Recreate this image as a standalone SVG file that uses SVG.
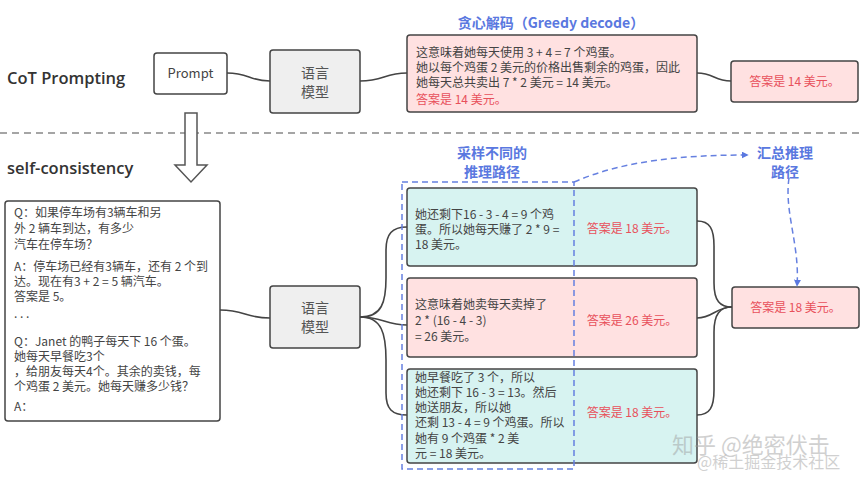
<svg xmlns="http://www.w3.org/2000/svg" width="864" height="477" viewBox="0 0 864 477">
<style>
.box{stroke:#444;stroke-width:1.5}
.pink{fill:#ffe1e1}
.teal{fill:#d7f3f1}
.gray{fill:#efefef}
.white{fill:#fff}
.t{font-family:"Noto Sans CJK SC","Noto Sans",sans-serif;font-size:12px;fill:#444}
.red{fill:#e8505b}
.lm{font-family:"Noto Sans CJK SC","Noto Sans",sans-serif;font-size:14px;fill:#555;text-anchor:middle}
.head{font-family:"Open Sans","Noto Sans CJK SC",sans-serif;font-size:16.5px;font-weight:600;fill:#333}
.blue{font-family:"Noto Sans CJK SC","Open Sans",sans-serif;font-size:14px;font-weight:600;fill:#5a78e0;text-anchor:middle}
.con{fill:none;stroke:#444;stroke-width:1.6}
.bd{fill:none;stroke:#6680e0;stroke-width:1.5;stroke-dasharray:6 4}
</style>
<defs>
<marker id="ba" viewBox="0 0 10 10" refX="9" refY="5" markerWidth="7" markerHeight="7" orient="auto" markerUnits="userSpaceOnUse">
<path d="M0,0 L10,5 L0,10 z" fill="#5a78e0"/>
</marker>
</defs>
<rect width="864" height="477" fill="#fff"/>

<text class="head" x="7" y="84">CoT Prompting</text>
<text class="head" x="7" y="174">self-consistency</text>
<line x1="0" y1="133" x2="864" y2="133" stroke="#888" stroke-width="1.5" stroke-dasharray="7 5"/>
<path d="M185,113 L197,113 L197,165 L207,165 L191,182 L175,165 L185,165 Z" fill="#fff" stroke="#555" stroke-width="1.5"/>

<g id="connectors">
<path class="con" d="M227,73 C249,73 249,81 270,81"/>
<path class="con" d="M360,81 C384,81 384,73 407,73"/>
<path class="con" d="M697,73 C714,73 714,81 731,81"/>
<path class="con" d="M220,310 C245,310 245,318 270,318"/>
<path class="con" d="M360,317 C382,317 386,302 386,278 L386,250 C386,234 392,227 407,227"/>
<path class="con" d="M360,317 C382,317 386,325 407,325"/>
<path class="con" d="M360,317 C382,317 386,334 386,360 L386,393 C386,409 392,415 407,415"/>
<path class="con" d="M697,221 C710,221 714,229 714,246 L714,283 C714,301 720,307 732,307"/>
<path class="con" d="M697,318 C713,318 716,307 732,307"/>
<path class="con" d="M697,415 C710,415 714,407 714,390 L714,332 C714,314 720,307 732,307"/>
</g>

<text class="blue" x="551" y="28">贪心解码（Greedy decode）</text>
<text class="blue" x="492" y="158">采样不同的</text>
<text class="blue" x="492" y="177">推理路径</text>
<text class="blue" x="785" y="158">汇总推理</text>
<text class="blue" x="785" y="177">路径</text>

<g id="prompt">
<rect class="box white" x="154" y="53" width="73" height="41" rx="3"/>
<text class="t" x="190.5" y="78" text-anchor="middle" style="font-size:13px">Prompt</text>
</g>
<g id="lm1">
<rect class="box gray" x="270" y="50" width="90" height="63" rx="3"/>
<text class="lm" x="315" y="78">语言</text>
<text class="lm" x="315" y="97">模型</text>
</g>
<g id="greedy">
<rect class="box pink" x="407" y="35" width="290" height="77" rx="3"/>
<text class="t" x="416" y="57">这意味着她每天使用 3 + 4 = 7 个鸡蛋。</text>
<text class="t" x="416" y="72">她以每个鸡蛋 2 美元的价格出售剩余的鸡蛋，因此</text>
<text class="t" x="416" y="87">她每天总共卖出 7 * 2 美元 = 14 美元。</text>
<text class="t red" x="416" y="104">答案是 14 美元。</text>
</g>
<g id="ans1">
<rect class="box pink" x="731" y="61" width="127" height="41" rx="3"/>
<text class="t red" x="794.5" y="86" text-anchor="middle">答案是 14 美元。</text>
</g>

<g id="question">
<rect class="box white" x="5" y="201" width="215" height="220" rx="3"/>
<text class="t" x="14" y="217">Q：如果停车场有3辆车和另</text>
<text class="t" x="14" y="233">外 2 辆车到达，有多少</text>
<text class="t" x="14" y="249">汽车在停车场？</text>
<text class="t" x="14" y="271">A：停车场已经有3辆车，还有 2 个到</text>
<text class="t" x="14" y="286">达。现在有3 + 2 = 5 辆汽车。</text>
<text class="t" x="14" y="301">答案是 5。</text>
<text class="t" x="14" y="318">. . .</text>
<text class="t" x="14" y="346">Q：Janet 的鸭子每天下 16 个蛋。</text>
<text class="t" x="14" y="361">她每天早餐吃3个</text>
<text class="t" x="14" y="376">，给朋友每天4个。其余的卖钱，每</text>
<text class="t" x="14" y="391">个鸡蛋 2 美元。她每天赚多少钱？</text>
<text class="t" x="14" y="411">A：</text>
</g>
<g id="lm2">
<rect class="box gray" x="270" y="286" width="90" height="62" rx="3"/>
<text class="lm" x="315" y="313">语言</text>
<text class="lm" x="315" y="332">模型</text>
</g>

<g id="path1">
<rect class="box teal" x="407" y="188" width="290" height="78" rx="3"/>
<text class="t" x="415" y="219">她还剩下16 - 3 - 4 = 9 个鸡</text>
<text class="t" x="415" y="234">蛋。所以她每天赚了 2 * 9 =</text>
<text class="t" x="415" y="249">18 美元。</text>
<text class="t red" x="632" y="233" text-anchor="middle">答案是 18 美元。</text>
</g>
<g id="path2">
<rect class="box pink" x="407" y="278" width="290" height="79" rx="3"/>
<text class="t" x="415" y="309">这意味着她卖每天卖掉了</text>
<text class="t" x="415" y="325">2 * (16 - 4 - 3)</text>
<text class="t" x="415" y="341">=  26 美元。</text>
<text class="t red" x="632" y="325" text-anchor="middle">答案是 26 美元。</text>
</g>
<g id="path3">
<rect class="box teal" x="407" y="369" width="290" height="94" rx="3"/>
<text class="t" x="415" y="382">她早餐吃了 3 个，所以</text>
<text class="t" x="415" y="397">她还剩下 16 - 3 = 13。然后</text>
<text class="t" x="415" y="412">她送朋友，所以她</text>
<text class="t" x="415" y="427">还剩 13 - 4 = 9 个鸡蛋。所以</text>
<text class="t" x="415" y="443">她有 9 个鸡蛋 * 2 美</text>
<text class="t" x="415" y="458">元 = 18 美元。</text>
<text class="t red" x="632" y="417" text-anchor="middle">答案是 18 美元。</text>
</g>
<g id="ans2">
<rect class="box pink" x="732" y="287" width="127" height="41" rx="3"/>
<text class="t red" x="795.5" y="312" text-anchor="middle">答案是 18 美元。</text>
</g>

<g id="sampling-overlay">
<rect class="bd" x="402" y="182" width="172" height="287"/>
<path class="bd" d="M574,182 C625,160 685,155 748,155" marker-end="url(#ba)"/>
<path class="bd" d="M789,178 C784,212 800,245 797,286" marker-end="url(#ba)"/>
</g>

<text x="672" y="453" font-family="Noto Sans CJK SC, sans-serif" font-size="22" fill="#999" opacity="0.45">知乎 @绝密伏击</text>
<text x="697" y="468" font-family="Noto Sans CJK SC, sans-serif" font-size="16" fill="#999" opacity="0.45">@稀土掘金技术社区</text>
</svg>
